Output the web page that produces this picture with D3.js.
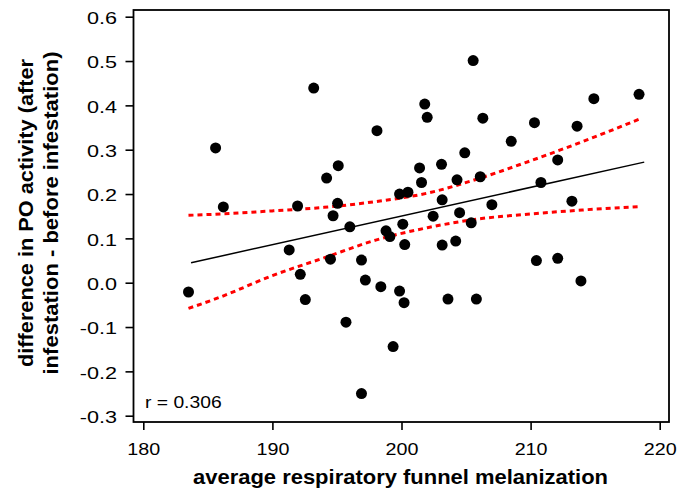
<!DOCTYPE html>
<html>
<head>
<meta charset="utf-8">
<script src="https://cdn.jsdelivr.net/npm/d3@7"></script>
<style>
  html, body { margin: 0; padding: 0; background: #fff; }
  svg { display: block; }
  text { font-family: "Liberation Sans", Arial, sans-serif; fill: #000; }
</style>
</head>
<body>
<svg id="chart" width="692" height="493"></svg>
<script>
// ---- data ----
const melanization = [183.5, 185.6, 186.2, 191.3, 191.95, 192.16, 192.55, 193.2, 194.2, 194.5,
  194.7, 195.05, 195.1, 195.7, 196.0, 196.9, 196.9, 197.2, 198.1, 198.4,
  198.8, 199.1, 199.35, 199.85, 199.85, 200.1, 200.2, 200.25, 200.5, 201.4,
  201.55, 201.8, 201.99, 202.45, 203.1, 203.15, 203.15, 203.6, 204.2, 204.3,
  204.5, 204.9, 205.4, 205.55, 205.8, 206.1, 206.3, 207.0, 208.5, 210.3,
  210.45, 210.8, 212.1, 212.1, 213.2, 213.6, 213.9, 214.9, 218.4];
const poDifference = [-0.021, 0.304, 0.171, 0.074, 0.173, 0.019, -0.038, 0.439, 0.236, 0.053,
  0.151, 0.179, 0.264, -0.089, 0.126, 0.051, -0.25, 0.006, 0.343, -0.009,
  0.117, 0.104, -0.144, 0.200, -0.019, 0.132, -0.045, 0.086, 0.204, 0.259,
  0.226, 0.403, 0.373, 0.150, 0.267, 0.187, 0.085, -0.037, 0.094, 0.232,
  0.158, 0.293, 0.135, 0.501, -0.037, 0.239, 0.371, 0.176, 0.319, 0.361,
  0.050, 0.226, 0.277, 0.055, 0.184, 0.353, 0.004, 0.415, 0.425];

const fitX = [183.7, 218.8];
const fitY = [0.045, 0.272];

const bandX     = [183.5, 186, 190, 194, 198, 202, 206, 210, 214, 218.6];
const bandUpper = [0.152, 0.155, 0.162, 0.170, 0.183, 0.202, 0.235, 0.275, 0.318, 0.371];
const bandLower = [-0.058, -0.032, 0.016, 0.056, 0.096, 0.124, 0.144, 0.155, 0.164, 0.172];

const xTicks = [180, 190, 200, 210, 220];
const yTicks = [-0.3, -0.2, -0.1, 0.0, 0.1, 0.2, 0.3, 0.4, 0.5, 0.6];
const rLabel = "r = 0.306";
const xTitle = "average respiratory funnel melanization";
const yTitle = ["difference in PO activity (after", "infestation - before infestation)"];

// ---- layout ----
const svg = d3.select("#chart");
const frame = {left: 133.5, right: 669, top: 10, bottom: 422};
const x = d3.scaleLinear().domain([180, 220]).range([143.3, 659.7]);
const y = d3.scaleLinear().domain([-0.3, 0.6]).range([415.7, 16.7]);
const FONT = "'Liberation Sans', Arial, sans-serif";

// frame
svg.append("rect")
  .attr("x", frame.left).attr("y", frame.top)
  .attr("width", frame.right - frame.left).attr("height", frame.bottom - frame.top)
  .attr("fill", "none").attr("stroke", "#000").attr("stroke-width", 1.8);

// y axis
const ySx = 1.27;
const yAxis = d3.axisLeft(y).tickValues(yTicks).tickSize(8).tickPadding(8)
  .tickFormat(d => d.toFixed(1));
const gy = svg.append("g").attr("transform", `translate(${frame.left},0)`).call(yAxis);
gy.select(".domain").remove();
gy.selectAll(".tick line").attr("stroke", "#000").attr("stroke-width", 1.6);
gy.selectAll(".tick text")
  .style("font-size", "17px").style("font-family", FONT).attr("fill", "#000")
  .attr("x", -16.5 / ySx).attr("dy", "0.4em")
  .attr("transform", `scale(${ySx},1)`);

// x axis
const xSx = 1.16;
const xAxis = d3.axisBottom(x).tickValues(xTicks).tickSize(8).tickPadding(13)
  .tickFormat(d3.format("d"));
const gx = svg.append("g").attr("transform", `translate(0,${frame.bottom})`).call(xAxis);
gx.select(".domain").remove();
gx.selectAll(".tick line").attr("stroke", "#000").attr("stroke-width", 1.6);
gx.selectAll(".tick text")
  .style("font-size", "17px").style("font-family", FONT).attr("fill", "#000")
  .attr("transform", `scale(${xSx},1)`);

// confidence bands
const bandLine = d3.line().x(d => x(d[0])).y(d => y(d[1])).curve(d3.curveMonotoneX);
[bandUpper, bandLower].forEach(vals => {
  svg.append("path")
    .datum(bandX.map((bx, i) => [bx, vals[i]]))
    .attr("d", bandLine)
    .attr("fill", "none")
    .attr("stroke", "#ff0000")
    .attr("stroke-width", 3)
    .attr("stroke-dasharray", "5,4");
});

// fit line
svg.append("path")
  .datum(fitX.map((fx, i) => [fx, fitY[i]]))
  .attr("d", d3.line().x(d => x(d[0])).y(d => y(d[1])))
  .attr("fill", "none").attr("stroke", "#000").attr("stroke-width", 1.5);

// points
svg.append("g").selectAll("circle")
  .data(melanization.map((mx, i) => [mx, poDifference[i]]))
  .join("circle")
  .attr("cx", d => x(d[0])).attr("cy", d => y(d[1]))
  .attr("r", 5.5).attr("fill", "#000");

// r label
svg.append("text").attr("transform", "translate(145,408) scale(1.17,1)")
  .style("font-size", "16.5px").text(rLabel);

// titles
svg.append("text")
  .attr("x", 400.5).attr("y", 484)
  .attr("text-anchor", "middle")
  .attr("textLength", 415).attr("lengthAdjust", "spacingAndGlyphs")
  .style("font-size", "21px").style("font-weight", "bold")
  .text(xTitle);

const yTitleLen = [308, 323];
const yt = svg.append("g").attr("transform", "translate(0,213) rotate(-90)");
yt.selectAll("text").data(yTitle).join("text")
  .attr("x", (d, i) => -yTitleLen[i] / 2).attr("y", (d, i) => 33 + i * 25)
  .attr("textLength", (d, i) => yTitleLen[i]).attr("lengthAdjust", "spacingAndGlyphs")
  .style("font-size", "19.5px").style("font-weight", "bold")
  .text(d => d);
</script>
</body>
</html>
